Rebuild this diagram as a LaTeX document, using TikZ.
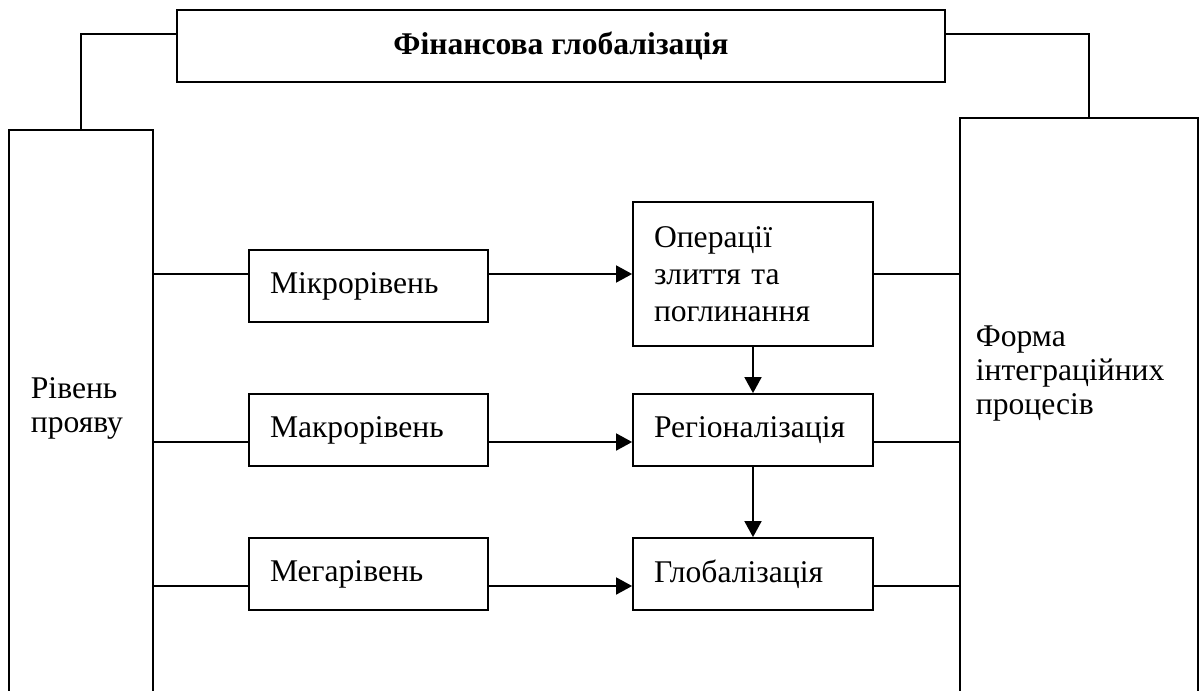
\documentclass[tikz,border=0pt]{standalone}
\usepackage{fontspec}
\setmainfont{Liberation Serif}
\usetikzlibrary{arrows.meta, positioning}

\tikzset{
	box/.style = {draw, line width=0.9pt, inner xsep=10.5pt, inner ysep=2pt, align=left,
		font=\fontsize{15.8}{18.5}\selectfont},
	colbox/.style = {draw, line width=0.9pt, inner sep=0pt},
	coltext/.style = {inner sep=0pt, anchor=west, align=left, font=\fontsize{15.8}{17}\selectfont}
}

\begin{document}
\begin{tikzpicture} [x=0.5pt, y=-0.5pt, line width=0.9pt, >={Triangle[length=8pt, width=8.5pt]}]
	\clip (0,0) rectangle (1201,691);
	% header and side columns
	\node[box, align=center, minimum width=384pt, minimum height=36pt, font=\fontsize{15.8}{18}\selectfont\bfseries] (fin) at (561,46) {Фінансова глобалізація};
	\node[colbox, minimum width=72pt, minimum height=315pt] (lvl) at (81,445) {};
	\node[coltext] (lvltxt) at (30,408) {Рівень\\прояву};
	\node[colbox, minimum width=119pt, minimum height=321pt] (frm) at (1079,439) {};
	\node[coltext] (frmtxt) at (975,374) {Форма\\інтеграційних\\процесів};
	
	% levels
	\node[box, text width=98.5pt, minimum height=36pt] (micro) at (368.5,286) {Мікрорівень};
	\node[box, text width=98.5pt, minimum height=36pt] (macro) at (368.5,430) {Макрорівень};
	\node[box, text width=98.5pt, minimum height=36pt] (mega) at (368.5,574) {Мегарівень};
	
	% forms
	\node[box, text width=99pt, minimum height=72pt] (ops) at (753,274) {Операції\\злиття та\\поглинання};
	\node[box, text width=99pt, minimum height=36pt] (reg) at (753,430) {Регіоналізація};
	\node[box, text width=99pt, minimum height=36pt] (glob) at (753,574) {Глобалізація};
	
	\coordinate (r1) at (ops.west);
	\coordinate (r2) at ([yshift=-6pt]reg.west);
	\coordinate (r3) at ([yshift=-6pt]glob.west);
	
	\draw ([yshift=6pt]fin.west) -| (lvl.north);
	\draw ([yshift=6pt]fin.east) -| ([xshift=5pt]frm.north);
	
	\draw (lvl.east |- r1) -- (micro.west |- r1);
	\draw (lvl.east |- r2) -- (macro.west |- r2);
	\draw (lvl.east |- r3) -- (mega.west |- r3);
	\draw[->] (micro.east |- r1) -- (r1);
	\draw[->] (macro.east |- r2) -- (r2);
	\draw[->] (mega.east |- r3) -- (r3);
	\draw (ops.east) -- (frm.west |- r1);
	\draw (reg.east |- r2) -- (frm.west |- r2);
	\draw (glob.east |- r3) -- (frm.west |- r3);
	
	\draw[->] (ops) -- (reg);
	\draw[->] (reg) -- (glob);
\end{tikzpicture}
\end{document}
